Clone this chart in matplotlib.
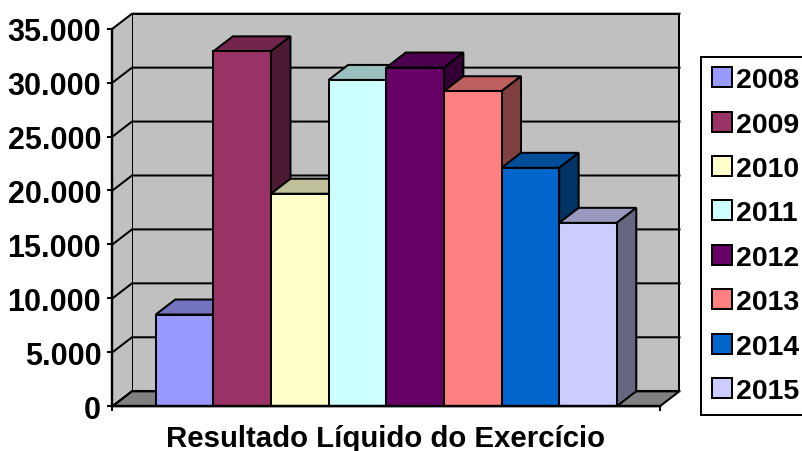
import matplotlib
matplotlib.use('Agg')
import matplotlib.pyplot as plt
from matplotlib.patches import Patch

plt.rcParams['font.family'] = ['Liberation Sans', 'DejaVu Sans']
plt.rcParams['font.weight'] = 'bold'

years = ['2008', '2009', '2010', '2011', '2012', '2013', '2014', '2015']
values = [8500, 32900, 19700, 30250, 31400, 29200, 22100, 17000]
colors = ['#9999FF', '#993366', '#FFFFCC', '#CCFFFF', '#660066', '#FF8080', '#0066CC', '#CCCCFF']
yticks = [0, 5000, 10000, 15000, 20000, 25000, 30000, 35000]
ytick_labels = ['0', '5.000', '10.000', '15.000', '20.000', '25.000', '30.000', '35.000']
title = 'Resultado Líquido do Exercício'

W, H = 803, 452
LW = 1.45


def shade(color, k):
    r, g, b = matplotlib.colors.to_rgb(color)
    return (r * k, g * k, b * k)


fig = plt.figure(figsize=(W / 100, H / 100), dpi=100)
# front plane of the 3d box
ax = fig.add_axes([112.5 / W, 1 - 407.2 / H, 547.5 / W, 377.5 / H])
ax.set_xlim(0, 9.5)
ax.set_ylim(0, 35000)
ax.patch.set_visible(False)

# depth of the box in data units
dx = 19.5 / 547.5 * 9.5
dy = 15 / 377.5 * 35000
xmax, ymax = 9.5, 35000

# walls and floor
ax.fill([dx, xmax + dx, xmax + dx, dx], [dy, dy, ymax + dy, ymax + dy],
        facecolor='#C0C0C0', edgecolor='black', lw=LW, clip_on=False, zorder=1)
ax.fill([0, dx, dx, 0], [0, dy, ymax + dy, ymax],
        facecolor='#C0C0C0', edgecolor='none', clip_on=False, zorder=1)
ax.fill([0, xmax, xmax + dx, dx], [0, 0, dy, dy],
        facecolor='#808080', edgecolor='black', lw=LW, clip_on=False, zorder=1)

# gridlines on back and side wall
for t in yticks:
    ax.plot([0, dx, xmax + dx], [t, t + dy, t + dy], color='black', lw=LW,
            clip_on=False, zorder=2, solid_joinstyle='miter')

# bars, left to right so each one covers the side of the previous one
for i, (v, c) in enumerate(zip(values, colors)):
    x0 = 0.75 + i
    x1 = x0 + 1
    z = 3 + i
    ax.fill([x0, x1, x1 + dx, x0 + dx], [v, v, v + dy, v + dy], facecolor=shade(c, 0.75),
            edgecolor='black', lw=LW, clip_on=False, zorder=z)
    ax.fill([x1, x1 + dx, x1 + dx, x1], [0, dy, v + dy, v], facecolor=shade(c, 0.5),
            edgecolor='black', lw=LW, clip_on=False, zorder=z)
    ax.fill([x0, x1, x1, x0], [0, 0, v, v], facecolor=c,
            edgecolor='black', lw=LW, clip_on=False, zorder=z)

for s in ['top', 'right']:
    ax.spines[s].set_visible(False)
for s in ['left', 'bottom']:
    ax.spines[s].set_linewidth(LW * 1.2)
    ax.spines[s].set_zorder(20)

ax.set_yticks(yticks)
ax.set_yticklabels(ytick_labels, fontsize=22, fontweight='bold')
ax.set_xticks([0, 9.5])
ax.set_xticklabels([])
ax.tick_params(axis='both', length=3.6, width=LW, pad=4.5)

fig.text(386 / W, 1 - 439 / H, title, fontsize=21.2, fontweight='bold',
         ha='center', va='center')

handles = [Patch(facecolor=c, edgecolor='black', lw=LW) for c in colors]
leg = fig.legend(handles, years, loc='upper left',
                 bbox_to_anchor=(701 / W, 1 - 57.5 / H), bbox_transform=fig.transFigure,
                 prop={'size': 20.5, 'weight': 'bold'}, fancybox=False, framealpha=1,
                 edgecolor='black', borderaxespad=0, borderpad=0.38, labelspacing=0.645,
                 handlelength=0.7, handleheight=0.7, handletextpad=0.16)
leg.get_frame().set_linewidth(LW)

fig.savefig('out.png', dpi=100)
